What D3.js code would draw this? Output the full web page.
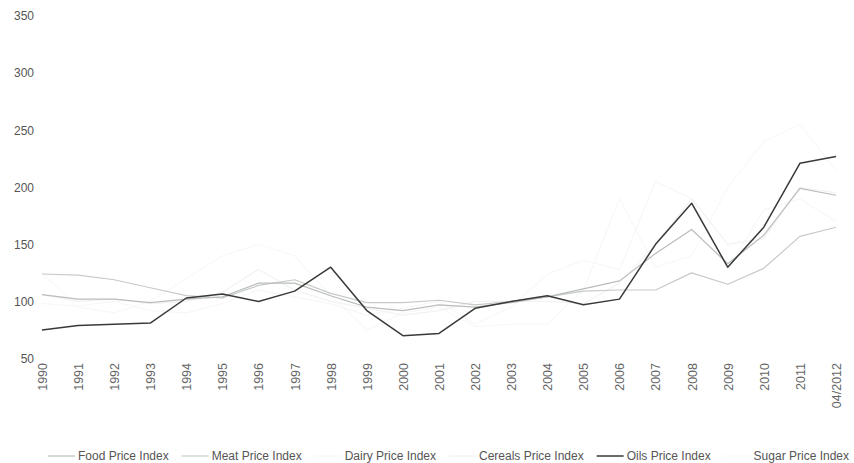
<!DOCTYPE html>
<html>
<head>
	<meta charset="utf-8">
	<script type="text/javascript" src="https://cdn.jsdelivr.net/npm/d3@7/dist/d3.min.js"></script>
	<title>Price Indices</title>
	<style type="text/css">
		body { margin: 0; background: #fff; }
		text { font-family: "Liberation Sans", Arial, sans-serif; }
	</style>
</head>
<body>
	<script>
		var years = ['1990', '1991', '1992', '1993', '1994', '1995', '1996', '1997', '1998', '1999', '2000',
			'2001', '2002', '2003', '2004', '2005', '2006', '2007', '2008', '2009', '2010', '2011', '04/2012'];

		var foodIndex    = [106, 102, 102, 99, 102, 104, 116, 116, 105, 95, 92, 97, 95, 99, 104, 111, 118, 142, 163, 133, 158, 199, 193];
		var meatIndex    = [124, 123, 119, 112, 105, 103, 114, 119, 107, 99, 99, 101, 97, 100, 104, 109, 110, 110, 125, 115, 129, 157, 165];
		var dairyIndex   = [98, 96, 100, 92, 90, 98, 110, 104, 98, 88, 94, 100, 80, 95, 124, 136, 128, 205, 190, 128, 180, 190, 170];
		var cerealsIndex = [106, 100, 102, 98, 100, 108, 128, 110, 100, 94, 88, 92, 100, 100, 100, 98, 116, 150, 190, 150, 155, 200, 195];
		var oilsIndex    = [75, 79, 80, 81, 103, 106.5, 100, 109, 130, 92, 70, 72, 94, 100, 105, 97, 102, 150, 186, 130, 165, 221, 227];
		var sugarIndex   = [125, 95, 90, 100, 120, 140, 150, 140, 105, 75, 90, 95, 78, 80, 80, 110, 190, 130, 140, 200, 240, 255, 215];

		var yTicks = [50, 100, 150, 200, 250, 300, 350];

		var seriesNames = ['Food Price Index', 'Meat Price Index', 'Dairy Price Index',
			'Cereals Price Index', 'Oils Price Index', 'Sugar Price Index'];

		var svgWidth = 854;
		var svgHeight = 463;

		var series = [
			{ name: seriesNames[0], values: foodIndex,    color: '#b9beb9', width: 1.2 },
			{ name: seriesNames[1], values: meatIndex,    color: '#c6cbc6', width: 1.2 },
			{ name: seriesNames[2], values: dairyIndex,   color: '#f6f7f6', width: 1.2 },
			{ name: seriesNames[3], values: cerealsIndex, color: '#f1f2f1', width: 1.2 },
			{ name: seriesNames[4], values: oilsIndex,    color: '#383a38', width: 1.5 },
			{ name: seriesNames[5], values: sugarIndex,   color: '#f8f8f8', width: 1.2 }
		];
		// draw the faint ones first so the darker lines sit on top
		var drawOrder = [5, 2, 3, 1, 0, 4];

		var svg = d3.select('body')
			.append('svg')
			.attr('width', svgWidth)
			.attr('height', svgHeight);

		var xScale = d3.scalePoint()
			.domain(years)
			.range([42, 836]);

		var yScale = d3.scaleLinear()
			.domain([50, 350])
			.range([358.5, 16]);

		// y axis: labels only
		var yAxis = svg.append('g')
			.attr('transform', 'translate(34,0)')
			.call(d3.axisLeft(yScale).tickValues(yTicks).tickSize(0).tickPadding(0));
		yAxis.select('.domain').remove();
		yAxis.selectAll('text')
			.attr('fill', '#555')
			.style('font-size', '12px');

		// x axis: rotated year labels
		var xAxis = svg.append('g')
			.attr('transform', 'translate(0,363)')
			.call(d3.axisBottom(xScale).tickSize(0).tickPadding(0));
		xAxis.select('.domain').remove();
		xAxis.selectAll('text')
			.attr('fill', '#666')
			.style('font-size', '12.5px')
			.style('text-anchor', 'end')
			.attr('dy', '0.35em')
			.attr('x', 0)
			.attr('y', 0)
			.attr('transform', 'rotate(-90)');

		var line = d3.line()
			.x(function (d, i) { return xScale(years[i]); })
			.y(function (d) { return yScale(d); });

		svg.append('g')
			.selectAll('path')
			.data(drawOrder.map(function (k) { return series[k]; }))
			.enter()
			.append('path')
				.attr('d', function (d) { return line(d.values); })
				.attr('fill', 'none')
				.attr('stroke', function (d) { return d.color; })
				.attr('stroke-width', function (d) { return d.width; })
				.attr('stroke-linejoin', 'round');

		// legend along the bottom, spread between 48 and 849
		var legend = svg.append('g')
			.attr('transform', 'translate(48,456)');
		var items = series.map(function (s) {
			var item = legend.append('g');
			item.append('line')
				.attr('x1', 0).attr('x2', 27)
				.attr('y1', 0).attr('y2', 0)
				.attr('stroke', s.color)
				.attr('stroke-width', s.width);
			var label = item.append('text')
				.attr('x', 30)
				.attr('dy', '0.35em')
				.attr('fill', '#555')
				.style('font-size', '12px')
				.text(s.name);
			return { g: item, w: 30 + label.node().getComputedTextLength() };
		});
		var totalW = d3.sum(items, function (d) { return d.w; });
		var gap = (801 - totalW) / (items.length - 1);
		var legendX = 0;
		items.forEach(function (d) {
			d.g.attr('transform', 'translate(' + legendX + ',0)');
			legendX += d.w + gap;
		});
	</script>
</body>
</html>
